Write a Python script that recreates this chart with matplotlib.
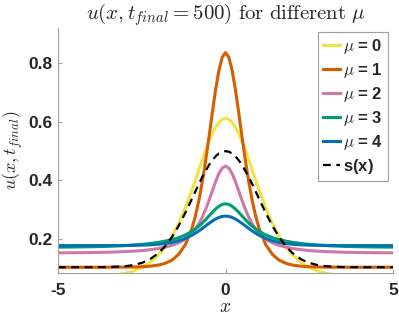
import matplotlib
matplotlib.use("Agg")
import matplotlib.pyplot as plt

plt.rcParams['mathtext.fontset'] = 'cm'
plt.rcParams['font.family'] = 'Liberation Sans'

x = [-5, -4.5, -4, -3.5, -3, -2.75, -2.5, -2.25, -2, -1.8, -1.6, -1.4, -1.2, -1,
     -0.9, -0.8, -0.7, -0.6, -0.5, -0.4, -0.3, -0.2, -0.1, 0,
     0.1, 0.2, 0.3, 0.4, 0.5, 0.6, 0.7, 0.8, 0.9, 1, 1.2, 1.4, 1.6, 1.8, 2,
     2.25, 2.5, 2.75, 3, 3.5, 4, 4.5, 5]

u_mu0 = [0.0657, 0.0665, 0.0684, 0.0727, 0.0821, 0.0903, 0.1025, 0.120, 0.145, 0.173,
         0.208, 0.2525, 0.306, 0.368, 0.401, 0.435, 0.469, 0.502, 0.532, 0.559, 0.581,
         0.598, 0.6085, 0.612, 0.6085, 0.598, 0.581, 0.559, 0.532, 0.502, 0.469, 0.435,
         0.401, 0.368, 0.306, 0.2525, 0.208, 0.173, 0.145, 0.120, 0.1025, 0.0903, 0.0821,
         0.0727, 0.0684, 0.0665, 0.0657]
u_mu1 = [0.103, 0.103, 0.103, 0.1031, 0.1034, 0.1038, 0.1047, 0.1066, 0.1105, 0.1165,
         0.127, 0.147, 0.180, 0.237, 0.278, 0.329, 0.391, 0.462, 0.543, 0.627, 0.707,
         0.775, 0.821, 0.837, 0.821, 0.775, 0.707, 0.627, 0.543, 0.462, 0.391, 0.329,
         0.278, 0.237, 0.180, 0.147, 0.127, 0.1165, 0.1105, 0.1066, 0.1047, 0.1038, 0.1034,
         0.1031, 0.103, 0.103, 0.103]
u_mu2 = [0.1524, 0.1527, 0.1533, 0.1545, 0.1565, 0.158, 0.160, 0.163, 0.167, 0.172,
         0.178, 0.186, 0.199, 0.219, 0.234, 0.251, 0.273, 0.299, 0.329, 0.362, 0.3945,
         0.423, 0.442, 0.449, 0.442, 0.423, 0.3945, 0.362, 0.329, 0.299, 0.273, 0.251,
         0.234, 0.219, 0.199, 0.186, 0.178, 0.172, 0.167, 0.163, 0.160, 0.158, 0.1565,
         0.1545, 0.1533, 0.1527, 0.1524]
u_mu3 = [0.1717, 0.1722, 0.1731, 0.1745, 0.1770, 0.1789, 0.1812, 0.1843, 0.1882, 0.1923,
         0.1975, 0.2043, 0.2134, 0.2259, 0.2338, 0.2431, 0.2535, 0.2652, 0.2776, 0.2901,
         0.3018, 0.3114, 0.3178, 0.320, 0.3178, 0.3114, 0.3018, 0.2901, 0.2776, 0.2652,
         0.2535, 0.2431, 0.2338, 0.2259, 0.2134, 0.2043, 0.1975, 0.1923, 0.1882, 0.1843,
         0.1812, 0.1789, 0.1770, 0.1745, 0.1731, 0.1722, 0.1717]
u_mu4 = [0.177, 0.177, 0.1771, 0.1772, 0.1775, 0.1779, 0.1786, 0.1797, 0.1816, 0.1841,
         0.1879, 0.1935, 0.2015, 0.2126, 0.2194, 0.2270, 0.2351, 0.2437, 0.2523, 0.2604,
         0.2676, 0.2732, 0.2768, 0.278, 0.2768, 0.2732, 0.2676, 0.2604, 0.2523, 0.2437,
         0.2351, 0.2270, 0.2194, 0.2126, 0.2015, 0.1935, 0.1879, 0.1841, 0.1816, 0.1797,
         0.1786, 0.1779, 0.1775, 0.1772, 0.1771, 0.177, 0.177]
s_x = [0.103, 0.103, 0.103, 0.1036, 0.1065, 0.1104, 0.1178, 0.1306, 0.1514, 0.175,
       0.206, 0.2445, 0.289, 0.3375, 0.362, 0.3865, 0.410, 0.4315, 0.451, 0.468, 0.482,
       0.492, 0.498, 0.500, 0.498, 0.492, 0.482, 0.468, 0.451, 0.4315, 0.410, 0.3865,
       0.362, 0.3375, 0.289, 0.2445, 0.206, 0.175, 0.1514, 0.1306, 0.1178, 0.1104, 0.1065,
       0.1036, 0.103, 0.103, 0.103]

curves = [u_mu0, u_mu1, u_mu2, u_mu3, u_mu4]
labels = [r'$\mu$ = 0', r'$\mu$ = 1', r'$\mu$ = 2', r'$\mu$ = 3', r'$\mu$ = 4']
colors = ['#F0E442', '#D55E00', '#CC79A7', '#009E73', '#0072B2']

fig = plt.figure(figsize=(3.99, 3.19), dpi=100)
ax = fig.add_axes([0.1454, 0.143, 0.8396, 0.769])

for u, lab, c in zip(curves, labels, colors):
    ax.plot(x, u, color=c, lw=2.2, label=lab)
ax.plot(x, s_x, 'k--', lw=1.6, dashes=(3.5, 2.5), label=r's(x)$\ $')

ax.set_xlim(-5, 5)
ax.set_ylim(0.082, 0.921)
ax.set_xticks([-5, 0, 5])
ax.set_yticks([0.2, 0.4, 0.6, 0.8])
ax.set_xticklabels(['-5', '0', '5'])
ax.set_yticklabels(['0.2', '0.4', '0.6', '0.8'])

for side in ['top', 'right']:
    ax.spines[side].set_visible(False)
for side in ['left', 'bottom']:
    ax.spines[side].set_color('#a0a0a0')
    ax.spines[side].set_linewidth(0.8)
ax.tick_params(direction='in', length=3, color='#a0a0a0', labelsize=12.5,
               labelcolor='#262626')
ax.tick_params(axis='x', pad=7)
ax.tick_params(axis='y', pad=4)
for t in ax.get_xticklabels() + ax.get_yticklabels():
    t.set_fontweight('bold')

ax.set_title(r'$u(x,t_{final}=500)\ \mathrm{for\ different}\ \mu$', fontsize=15,
             color='#262626', pad=5)
ax.set_ylabel(r'$u(x,t_{final})$', fontsize=13, color='#262626', labelpad=2)
ax.set_xlabel(r'$x$', fontsize=14, color='#262626', labelpad=1)

leg = ax.legend(loc='upper right', bbox_to_anchor=(0.985, 0.984), fancybox=False,
                framealpha=1, edgecolor='#a0a0a0', handlelength=1.0, handletextpad=0.2,
                labelspacing=0.3, borderpad=0.3, borderaxespad=0,
                prop={'weight': 'bold', 'size': 12})
leg.get_frame().set_linewidth(0.8)
for t in leg.get_texts():
    t.set_color('#262626')

fig.savefig('out.png', dpi=100)
